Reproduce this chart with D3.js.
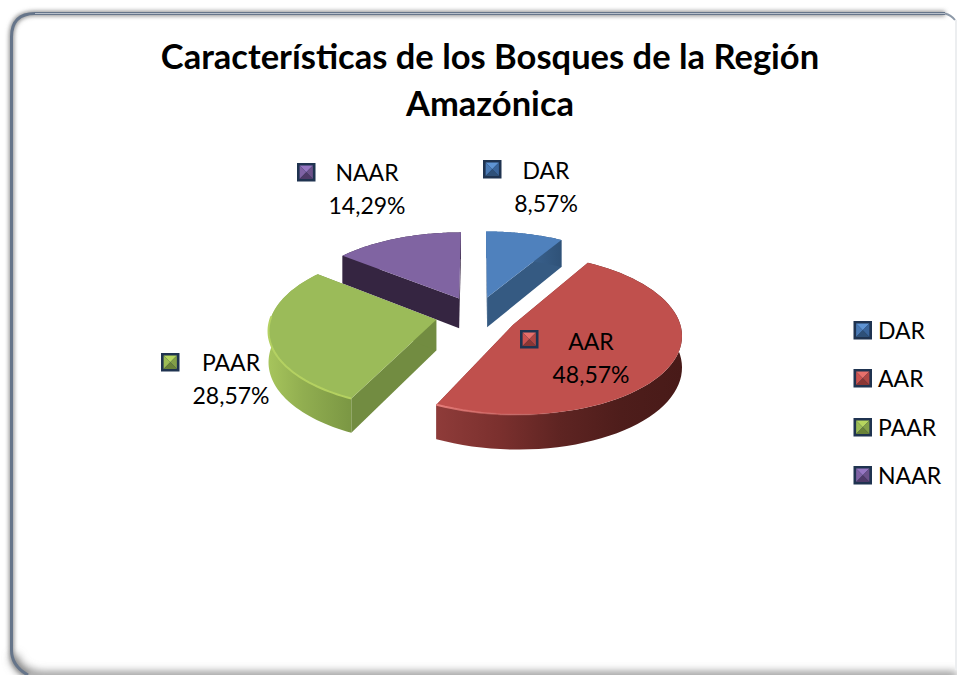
<!DOCTYPE html>
<html><head><meta charset="utf-8">
<script src="https://cdn.jsdelivr.net/npm/d3@7"></script>
<style>html,body{margin:0;padding:0;background:#fff;overflow:hidden}svg{display:block}text{font-family:Lato,"Open Sans",sans-serif;fill:#000}</style>
</head><body><div id="c"></div>
<script>
const titleLines = ["Características de los Bosques de la Región", "Amazónica"];
const categories = ["DAR", "AAR", "PAAR", "NAAR"];
const values = [8.57, 48.57, 28.57, 14.29];
const topColors = ["#4f81bd", "#c0504d", "#9bbb59", "#8064a2"];
const faceColors = ["#355a82", "#7e2f2d", "#728c41", "#352541"];
const rimStops = [
  [["0", "#4a78ad"], ["1", "#2f5278"]],
  [["0", "#8e3b39"], ["0.25", "#7b302e"], ["0.5", "#5e2422"], ["0.75", "#4e1d1b"], ["1", "#481a18"]],
  [["0", "#a6c45c"], ["0.4", "#91ae50"], ["1", "#7a9643"]],
  [["0", "#352541"], ["1", "#352541"]]
];
const swatchShades = [
  ["#5f94d4", "#4a7ab5", "#3a659c", "#2e5078"],
  ["#e8706b", "#cc5350", "#b04744", "#8a3634"],
  ["#b6d65e", "#9cbc55", "#83a048", "#6a8338"],
  ["#9676c2", "#7f62a4", "#6b5189", "#4f3a68"]
];
const labelPos = [[546, 179, 483, 160], [591, 350, 520, 330], [231, 371, 161, 353], [367, 181, 297, 163]];
const legendY = [339, 387, 436, 484];
const drawOrder = [3, 0, 2, 1];

const W = 957, H = 675;
const svg = d3.select("#c").append("svg").attr("width", W).attr("height", H);
const defs = svg.append("defs");
const blur = (id, sd) => defs.append("filter").attr("id", id).attr("filterUnits", "userSpaceOnUse")
  .attr("x", -30).attr("y", -30).attr("width", W + 60).attr("height", H + 60)
  .append("feGaussianBlur").attr("stdDeviation", sd);
blur("sh", 4); blur("sh2", 2.2); blur("soft", 0.6);

// frame
svg.append("rect").attr("x", 11).attr("y", 13).attr("width", 960).attr("height", 670).attr("rx", 24)
  .attr("fill", "#fff");
const frameEdge = d3.path();
frameEdge.moveTo(945, 13.5); frameEdge.lineTo(35, 13.5);
frameEdge.quadraticCurveTo(11.5, 13.5, 11.5, 37); frameEdge.lineTo(11.5, 650);
frameEdge.quadraticCurveTo(11.5, 666, 28, 675);
svg.append("path").attr("d", frameEdge.toString()).attr("fill", "none").attr("stroke", "#8c8c8c")
  .attr("stroke-width", 5).attr("filter", "url(#sh2)");
svg.append("path").attr("d", "M14,655Q16,672 40,676L957,676").attr("fill", "none").attr("stroke", "#8a8a8a")
  .attr("stroke-width", 8).attr("filter", "url(#sh)");
svg.append("path").attr("d", frameEdge.toString()).attr("fill", "none").attr("stroke", "#66758a").attr("stroke-width", 3);
svg.append("path").attr("d", "M945,13.5L35,13.5").attr("fill", "none").attr("stroke", "#cdd3da").attr("stroke-width", 0.8);
svg.append("path").attr("d", "M945,13.5Q951,15 955,20").attr("fill", "none").attr("stroke", "#8d99a8").attr("stroke-width", 2);
svg.append("rect").attr("x", 955).attr("y", 20).attr("width", 2).attr("height", 650).attr("fill", "#eceef0");

// title
svg.selectAll(".t").data(titleLines).join("text").attr("class", "t")
  .attr("x", 490).attr("y", (d, i) => 69 + i * 47).attr("text-anchor", "middle")
  .attr("font-size", 34.5).attr("font-weight", 700).text(d => d);

// pie geometry
const slices = d3.pie().sort(null).value(d => d)(values);
const R = 165, explode = 41, persp = 0.00069, tilt = 0.469, cx = 476.5, cy = 315.5, depth = 30.5;
const project = (u, w) => { const s = 1 / (1 + persp * w); return [cx + u * s, cy - w * tilt * s]; };
const drop = (p, u, w) => { const s = 1 / (1 + persp * w); return [p[0], p[1] + depth * s]; };
const line = d3.line();

function geom(sl) {
  const mid = (sl.startAngle + sl.endAngle) / 2;
  const u0 = explode * Math.sin(mid), w0 = explode * Math.cos(mid);
  const as = d3.range(0, 61).map(i => sl.startAngle + (sl.endAngle - sl.startAngle) * i / 60);
  const pts = as.map(a => [u0 + R * Math.sin(a), w0 + R * Math.cos(a)]);
  const top = pts.map(p => project(p[0], p[1]));
  const bot = pts.map((p, i) => drop(top[i], p[0], p[1]));
  const apexT = project(u0, w0), apexB = drop(apexT, u0, w0);
  return { top, bot, apexT, apexB, as };
}

const pieG = svg.append("g");
drawOrder.forEach(i => {
  const g = geom(slices[i]);
  const xs = g.top.map(p => p[0]);
  const id = "rim" + i;
  const lg = defs.append("linearGradient").attr("id", id).attr("gradientUnits", "userSpaceOnUse")
    .attr("x1", i === 1 ? 438 : (i === 2 ? 269 : d3.min(xs))).attr("x2", i === 1 ? 682 : (i === 2 ? 353 : d3.max(xs))).attr("y1", 0).attr("y2", 0);
  rimStops[i].forEach(s => lg.append("stop").attr("offset", s[0]).attr("stop-color", s[1]));
  // radial faces
  pieG.append("path").attr("d", line([g.apexT, g.top[0], g.bot[0], g.apexB]) + "Z").attr("fill", faceColors[i]);
  pieG.append("path").attr("d", line([g.apexT, g.top[60], g.bot[60], g.apexB]) + "Z").attr("fill", faceColors[i]);
  // curved wall
  pieG.append("path").attr("d", line(g.top.concat(g.bot.slice().reverse())) + "Z").attr("fill", "url(#" + id + ")");
  // top face
  pieG.append("path").attr("d", line([g.apexT].concat(g.top)) + "Z").attr("fill", topColors[i]);
  // bevel highlight on the near rim
  if (i === 1 || i === 2) {
    const hl = defs.append("linearGradient").attr("id", "hl" + i).attr("gradientUnits", "userSpaceOnUse")
      .attr("x1", i === 1 ? 438 : 269).attr("x2", i === 1 ? 570 : 353).attr("y1", 0).attr("y2", 0);
    if (i === 1) {
      hl.append("stop").attr("offset", "0").attr("stop-color", "#e67f7c");
      hl.append("stop").attr("offset", "1").attr("stop-color", "#c0504d").attr("stop-opacity", 0);
    } else {
      hl.append("stop").attr("offset", "0").attr("stop-color", "#b4d162");
      hl.append("stop").attr("offset", "1").attr("stop-color", "#b4d160");
    }
    const arcPts = g.top.filter((p, k) => Math.cos(g.as[k]) < 0.05);
    pieG.append("path").attr("d", line(arcPts)).attr("fill", "none").attr("stroke", "url(#hl" + i + ")")
      .attr("stroke-width", 2).attr("filter", "url(#soft)");
  }
});

// swatch helper
function swatch(x, y, i) {
  const s = 18.5, b = 2.6, m = svg.append("g").attr("transform", `translate(${x},${y})`);
  m.append("rect").attr("width", s).attr("height", s).attr("fill", "#1f3350");
  const a = b, z = s - b, c = s / 2;
  const tris = [[[a, a], [z, a], [c, c]], [[a, a], [a, z], [c, c]], [[z, a], [z, z], [c, c]], [[a, z], [z, z], [c, c]]];
  tris.forEach((t, k) => m.append("path").attr("d", line(t) + "Z").attr("fill", swatchShades[i][k]));
}

// data labels
const fmt = v => v.toFixed(2).replace(".", ",") + "%";
categories.forEach((c, i) => {
  const p = labelPos[i];
  swatch(p[2], p[3], i);
  svg.append("text").attr("x", p[0]).attr("y", p[1]).attr("text-anchor", "middle").attr("font-size", 23).text(c);
  svg.append("text").attr("x", p[0]).attr("y", p[1] + 33).attr("text-anchor", "middle").attr("font-size", 23).text(fmt(values[i]));
});

// legend
categories.forEach((c, i) => {
  swatch(853.5, legendY[i] - 18, i);
  svg.append("text").attr("x", 878).attr("y", legendY[i]).attr("font-size", 23).text(c);
});
</script></body></html>
